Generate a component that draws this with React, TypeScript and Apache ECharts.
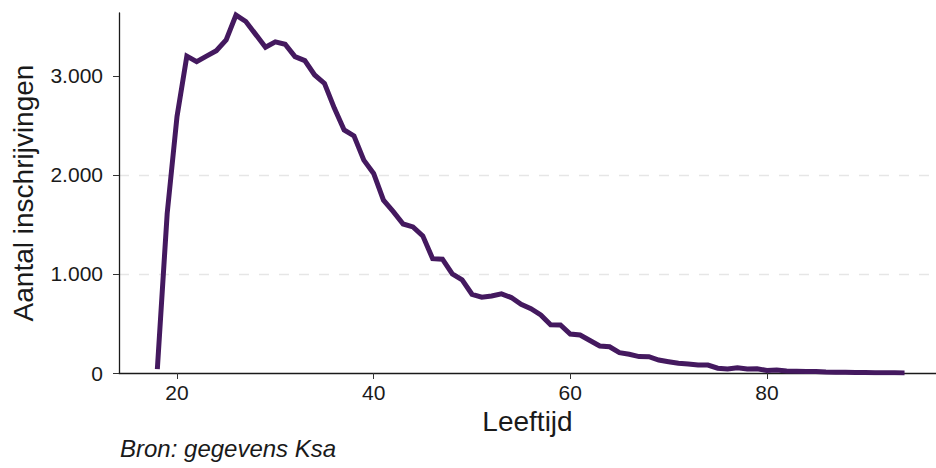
import React, { useEffect, useRef } from "react";
import * as echarts from "echarts";

const ages: number[] = [];
for (let a = 18; a <= 94; a++) ages.push(a);

const counts: number[] = [
  40, 1610, 2590, 3200, 3145, 3200, 3255, 3365, 3615, 3550,
  3420, 3290, 3345, 3320, 3195, 3155, 3010, 2925, 2675, 2455,
  2395, 2150, 2015, 1745, 1630, 1505, 1475, 1385, 1155, 1150,
  1000, 940, 795, 765, 778, 800, 762, 694, 650, 586,
  488, 485, 394, 384, 328, 273, 265, 205, 189, 166,
  165, 131, 114, 98, 91, 81, 80, 48, 41, 54,
  40, 43, 25, 31, 20, 17, 14, 15, 10, 8,
  7, 5, 4, 3, 2, 2, 1,
];

const xTicks = [20, 40, 60, 80];
const yTicks = [0, 1000, 2000, 3000];

const FONT = "'Liberation Sans', Arial, sans-serif";

export default function App() {
  const ref = useRef<HTMLDivElement>(null);
  useEffect(() => {
    if (!ref.current) return;
    const chart = echarts.init(ref.current, null, { renderer: "svg" });
    chart.setOption({
      animation: false,
      backgroundColor: "#ffffff",
      textStyle: { fontFamily: FONT },
      grid: { left: 119, right: 0, top: 13, bottom: 95, containLabel: false },
      xAxis: {
        type: "value",
        min: 14.1,
        max: 97.2,
        name: "Leeftijd",
        nameLocation: "middle",
        nameGap: 28,
        nameTextStyle: { fontSize: 28, color: "#1a1a1a", fontFamily: FONT },
        axisLine: { show: true, lineStyle: { color: "#1a1a1a", width: 1.3 } },
        axisTick: { show: true, length: 6, customValues: xTicks, lineStyle: { color: "#333" } },
        axisLabel: { customValues: xTicks, fontSize: 21, color: "#1a1a1a", margin: 9, fontFamily: FONT },
        splitLine: { show: false },
      },
      yAxis: {
        type: "value",
        min: 0,
        max: 3636,
        name: "Aantal inschrijvingen",
        nameLocation: "middle",
        nameGap: 82,
        nameRotate: 90,
        nameTextStyle: { fontSize: 28, color: "#1a1a1a", fontFamily: FONT },
        axisLine: { show: true, lineStyle: { color: "#1a1a1a", width: 1.3 } },
        axisTick: { show: true, length: 6, customValues: yTicks, lineStyle: { color: "#333" } },
        axisLabel: {
          customValues: yTicks,
          fontSize: 21,
          color: "#1a1a1a",
          margin: 16,
          fontFamily: FONT,
          formatter: (v: number) => (v >= 1000 ? `${Math.floor(v / 1000)}.${String(v % 1000).padStart(3, "0")}` : `${v}`),
        },
        splitLine: {
          show: true,
          showMinLine: false,
          showMaxLine: false,
          lineStyle: { color: "#e6e6e6", type: [10, 10], width: 1.3 },
        },
      },
      graphic: [
        {
          type: "text",
          left: 120,
          top: 436,
          style: {
            text: "Bron: gegevens Ksa",
            fontSize: 24,
            fontStyle: "italic",
            fontFamily: FONT,
            fill: "#1a1a1a",
          },
        },
      ],
      series: [
        {
          type: "line",
          data: ages.map((a, i) => [a, counts[i]]),
          showSymbol: false,
          symbol: "none",
          lineStyle: { color: "#44195f", width: 5, cap: "butt", join: "miter" },
          itemStyle: { color: "#44195f" },
        },
      ],
    });
    return () => chart.dispose();
  }, []);
  return (
    <div
      ref={ref}
      style={{ position: "fixed", left: 0, top: 0, width: 936, height: 468, background: "#fff" }}
    />
  );
}
